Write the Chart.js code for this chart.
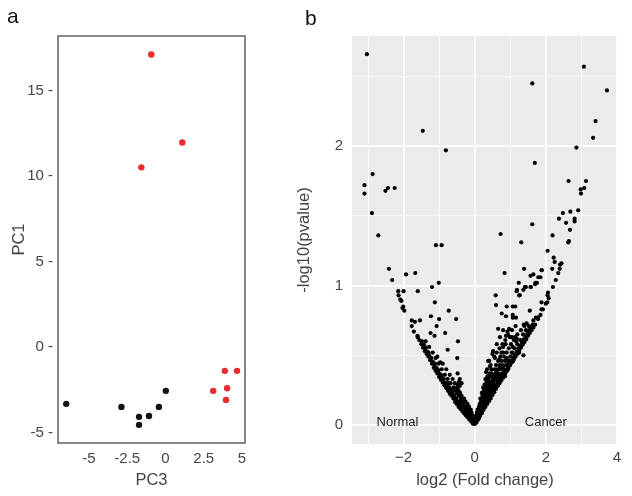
<!DOCTYPE html>
<html>
<head>
<meta charset="utf-8">
<script src="https://cdn.jsdelivr.net/npm/chart.js@4.4.1/dist/chart.umd.min.js"></script>
<style>
  html, body { margin: 0; padding: 0; background: #fff; }
  #wrap { position: relative; width: 632px; height: 496px; overflow: hidden; }
  .panel { position: absolute; top: 0; }
  .tag { position: absolute; font: 21px "Liberation Sans", Arial, sans-serif; color: #111; line-height: 21px; }
</style>
</head>
<body>
<div id="wrap">
  <canvas id="pcaChart" class="panel" width="290" height="496" style="left:0;width:290px;height:496px"></canvas>
  <canvas id="volcanoChart" class="panel" width="342" height="496" style="left:290px;width:342px;height:496px"></canvas>
  <div class="tag" style="left:7px;top:5px">a</div>
  <div class="tag" style="left:305px;top:7px">b</div>
</div>
<script>
const FONT = '"Liberation Sans", Arial, sans-serif';

// ---- panel a: PCA ----
const pcaNormalPC3 = [-6.49, -2.88, -1.73, -1.73, -1.08, -0.43, 0.02];
const pcaNormalPC1 = [-3.33, -3.51, -4.09, -4.56, -4.04, -3.51, -2.57];
const pcaCancerPC3 = [-0.93, 1.1, -1.58, 3.88, 4.68, 3.12, 4.03, 3.96];
const pcaCancerPC1 = [17.1, 11.95, 10.5, -1.4, -1.4, -2.57, -2.42, -3.1];
const pcaXTicks = [-5, -2.5, 0, 2.5, 5];
const pcaYTicks = [-5, 0, 5, 10, 15];

// ---- panel b: volcano (log2 fold change, -log10 p) ----
const volcanoHigh = [
  [-3.03,2.66],[-1.46,2.11],[-0.81,1.97],
  [3.07,2.57],[1.62,2.45],[3.72,2.40],[3.40,2.18],[3.33,2.06],[2.86,1.99],[1.69,1.88],
  [-2.87,1.80],[-3.10,1.72],[-3.10,1.66],[-2.51,1.68],[-2.44,1.70],[-2.25,1.70],[-2.89,1.52],[-2.71,1.36],
  [-1.09,1.29],[-0.93,1.29],[-2.41,1.12],[-2.32,1.04],[-1.93,1.08],[-1.67,1.09],[-1.01,1.02],[-1.20,0.99],
  [-2.15,0.96],[-2.0,0.96],[-2.14,0.93],[-1.60,0.96],
  [2.64,1.75],[3.13,1.75],[2.98,1.69],[3.08,1.70],[2.99,1.66],[2.91,1.54],[2.48,1.52],[2.69,1.53],
  [2.37,1.48],[2.81,1.48],[2.81,1.46],[2.57,1.45],[1.62,1.44],[2.68,1.40],[0.73,1.37],[2.19,1.36],
  [2.65,1.32],[2.63,1.31],[1.31,1.31],[2.05,1.25],[2.22,1.20],[2.25,1.17],[2.44,1.16],[2.40,1.15],
  [2.18,1.12],[2.39,1.12],[1.39,1.12],[1.89,1.11],[0.84,1.09],[2.35,1.09],[1.57,1.07],[1.85,1.06],
  [2.28,1.04],[1.75,1.02],[1.70,1.01],[1.24,1.02],[1.57,0.99],[1.44,0.99],[1.37,0.97],[1.19,0.97],
  [2.20,0.99],[2.06,0.95],[2.05,0.93],[1.25,0.93],[0.59,0.93],[2.08,0.91],
  [1.41,0.99],[1.18,0.96],[1.27,0.93],[1.58,0.99],[1.71,1.02],[1.79,1.06],[1.88,1.11],[1.65,1.08]
];
const volcanoMidLeft = [
  [-2.06,0.89],[-2.09,0.90],[-2.01,0.85],[-2.03,0.84],[-1.98,0.82],[-1.12,0.88],[-0.73,0.82],[-1.23,0.78],
  [-1.0,0.76],[-0.52,0.76],[-1.77,0.75],[-1.68,0.74],[-1.54,0.75],[-1.77,0.71],[-1.07,0.71],[-1.71,0.67],
  [-1.24,0.66],[-0.83,0.66],[-1.13,0.64],[-0.47,0.60],[-0.76,0.54],[-1.05,0.49],[-0.97,0.45],[-0.49,0.48],
  [-0.48,0.37],[-0.44,0.31],[-0.37,0.30],[-0.42,0.28],[-0.75,0.30],[-0.47,0.29],[-0.42,0.33],[-1.61,0.64]
];
const volcanoMidRight = [
  [0.60,0.86],[0.90,0.85],[1.07,0.85],[1.14,0.85],[0.76,0.80],[0.88,0.78],[1.07,0.79],[1.16,0.77],
  [1.07,0.77],[1.55,0.82],[1.72,0.77],[1.88,0.83],[1.88,0.88],[2.04,0.88],[1.38,0.72],[1.46,0.73],
  [1.65,0.75],[1.78,0.77],[0.66,0.69],[0.80,0.68],[0.92,0.67],[0.71,0.63],[0.88,0.64],[0.99,0.63],
  [1.13,0.63],[1.16,0.60],[0.62,0.58],[0.87,0.58],[0.80,0.56],[1.07,0.56],[0.75,0.52],[1.04,0.52],
  [1.25,0.52],[1.37,0.50],[0.52,0.53],[0.50,0.51],[0.57,0.48],[0.69,0.47],[0.90,0.48],[0.94,0.44],
  [1.08,0.46],[0.38,0.46],[0.43,0.42],[0.47,0.40],[0.32,0.38],[0.38,0.35],[0.52,0.36],[0.61,0.39],
  [0.71,0.41],[0.80,0.42],[0.94,0.40],[0.69,0.35],[0.85,0.35],[0.97,0.69],[1.18,0.62],[1.04,0.63]
];
const volcanoEdgeLeft = [
  [-0.05,0.01],[-0.1,0.025],[-0.15,0.04],[-0.2,0.055],[-0.25,0.07],[-0.3,0.085],[-0.35,0.1],[-0.4,0.115],
  [-0.45,0.13],[-0.5,0.15],[-0.55,0.165],[-0.6,0.19],[-0.65,0.21],[-0.7,0.225],[-0.75,0.245],[-0.8,0.265],
  [-0.85,0.285],[-0.9,0.305],[-0.95,0.325],[-1.0,0.345],[-1.05,0.37],[-1.1,0.39],[-1.15,0.41],[-1.2,0.44],
  [-1.25,0.465],[-1.3,0.49],[-1.35,0.51],[-1.4,0.53],[-1.45,0.555],[-1.5,0.58],[-1.56,0.61],[-1.6,0.63],
  [-0.08,0.035],[-0.13,0.05],[-0.18,0.07],[-0.23,0.085],[-0.28,0.1],[-0.33,0.115],[-0.38,0.13],[-0.43,0.15],
  [-0.48,0.165],[-0.53,0.185],[-0.58,0.205],[-0.63,0.225],[-0.68,0.245],[-0.73,0.265],[-0.78,0.285],[-0.83,0.3],
  [-0.88,0.325],[-0.93,0.345],[-0.98,0.365],[-1.03,0.385],[-1.08,0.41],[-1.13,0.43],[-1.18,0.455],[-1.23,0.48],
  [-1.28,0.5],[-1.33,0.525],[-1.38,0.55],[-1.43,0.575],[-1.48,0.6]
];
const volcanoEdgeRight = [
  [0.05,0.02],[0.1,0.04],[0.15,0.065],[0.2,0.085],[0.25,0.11],[0.3,0.13],[0.35,0.15],[0.4,0.17],
  [0.45,0.19],[0.5,0.215],[0.55,0.235],[0.6,0.26],[0.65,0.28],[0.7,0.3],[0.75,0.32],[0.8,0.34],
  [0.85,0.365],[0.9,0.385],[0.95,0.41],[1.0,0.43],[1.05,0.45],[1.1,0.47],[1.15,0.49],[1.2,0.51],
  [1.25,0.535],[1.3,0.555],[1.35,0.575],[1.4,0.595],[1.45,0.615],[1.5,0.64],[1.55,0.66],[1.6,0.68],
  [1.65,0.7],[1.7,0.72],[1.78,0.76],[1.85,0.79],[1.92,0.83],[2.0,0.87],
  [0.08,0.045],[0.13,0.065],[0.18,0.09],[0.23,0.11],[0.28,0.135],[0.33,0.155],[0.38,0.175],[0.43,0.2],
  [0.48,0.22],[0.53,0.24],[0.58,0.265],[0.63,0.285],[0.68,0.31],[0.73,0.33],[0.78,0.35],[0.83,0.375],
  [0.88,0.395],[0.93,0.42],[0.98,0.44],[1.03,0.46],[1.08,0.485],[1.13,0.505],[1.18,0.525],[1.23,0.55],
  [1.28,0.57],[1.33,0.59],[1.38,0.615],[1.43,0.635],[1.48,0.655],[1.53,0.68],[1.58,0.7],[1.63,0.72]
];
const volcanoCoreLeft = [
  [-0.02,0.03],[-0.05,0.03],[-0.04,0.05],[-0.09,0.05],[-0.13,0.05],[-0.06,0.07],[-0.12,0.07],[-0.18,0.07],
  [-0.09,0.09],[-0.15,0.09],[-0.22,0.09],[-0.27,0.09],[-0.11,0.11],[-0.19,0.11],[-0.25,0.11],[-0.33,0.11],
  [-0.16,0.13],[-0.23,0.13],[-0.29,0.13],[-0.38,0.13],[-0.2,0.15],[-0.31,0.15],[-0.36,0.15],[-0.43,0.15],
  [-0.26,0.17],[-0.34,0.17],[-0.41,0.17],[-0.48,0.17],[-0.3,0.19],[-0.39,0.19],[-0.52,0.19],[-0.37,0.21],
  [-0.45,0.21],[-0.57,0.21],[-0.41,0.23],[-0.5,0.23],[-0.62,0.23],[-0.46,0.25],[-0.55,0.25],[-0.66,0.25],
  [-0.5,0.27],[-0.6,0.27],[-0.72,0.27],[-0.56,0.3],[-0.68,0.3],[-0.8,0.3],[-0.62,0.33],[-0.76,0.33],
  [-0.87,0.33],[-0.7,0.36],[-0.84,0.36],[-0.95,0.36],[-0.8,0.4],[-0.93,0.4],[-1.04,0.4],[-0.9,0.44],
  [-1.02,0.44],[-1.12,0.44],[-1.1,0.48],[-1.22,0.48],[-1.18,0.52],[-1.3,0.52],[-1.28,0.56],[-1.4,0.56],
  [-1.38,0.6],[-1.5,0.6],[-0.01,0.01],[-0.03,0.015],[-0.07,0.04],[-0.14,0.06]
];
const volcanoCoreRight = [
  [0.02,0.03],[0.04,0.03],[0.03,0.05],[0.07,0.05],[0.1,0.05],[0.05,0.07],[0.09,0.07],[0.13,0.07],
  [0.06,0.09],[0.11,0.09],[0.16,0.09],[0.19,0.09],[0.08,0.11],[0.14,0.11],[0.18,0.11],[0.22,0.11],
  [0.12,0.13],[0.17,0.13],[0.21,0.13],[0.26,0.13],[0.14,0.15],[0.2,0.15],[0.24,0.15],[0.29,0.15],
  [0.33,0.15],[0.18,0.17],[0.23,0.17],[0.28,0.17],[0.31,0.17],[0.36,0.17],[0.16,0.19],[0.25,0.19],
  [0.3,0.19],[0.34,0.19],[0.4,0.19],[0.22,0.21],[0.27,0.21],[0.33,0.21],[0.38,0.21],[0.44,0.21],
  [0.2,0.23],[0.29,0.23],[0.35,0.23],[0.41,0.23],[0.47,0.23],[0.26,0.25],[0.32,0.25],[0.39,0.25],
  [0.45,0.25],[0.52,0.25],[0.24,0.27],[0.3,0.27],[0.37,0.27],[0.43,0.27],[0.5,0.27],[0.56,0.27],
  [0.28,0.29],[0.35,0.29],[0.42,0.29],[0.48,0.29],[0.55,0.29],[0.6,0.29],[0.33,0.31],[0.4,0.31],
  [0.46,0.31],[0.53,0.31],[0.64,0.31],[0.3,0.33],[0.38,0.33],[0.5,0.33],[0.58,0.33],[0.68,0.33],
  [0.36,0.35],[0.44,0.35],[0.55,0.35],[0.62,0.35],[0.73,0.35],[0.42,0.37],[0.48,0.37],[0.6,0.37],
  [0.66,0.37],[0.77,0.37],[0.35,0.4],[0.56,0.4],[0.64,0.4],[0.72,0.4],[0.82,0.4],[0.45,0.43],
  [0.6,0.43],[0.7,0.43],[0.78,0.43],[0.88,0.43],[0.41,0.46],[0.66,0.46],[0.75,0.46],[0.85,0.46],
  [0.95,0.46],[0.55,0.49],[0.72,0.49],[0.83,0.49],[1.0,0.49],[0.62,0.52],[0.8,0.52],[0.9,0.52],
  [1.06,0.52],[0.7,0.55],[0.96,0.55],[1.12,0.55],[0.78,0.58],[1.02,0.58],[1.2,0.58],[0.86,0.61],
  [1.1,0.61],[1.28,0.61],[0.94,0.65],[1.2,0.65],[1.36,0.65],[1.05,0.68],[1.3,0.68],[1.44,0.68],
  [1.15,0.71],[1.4,0.71],[1.52,0.71],[0.01,0.01],[0.03,0.015],[0.07,0.035],[0.12,0.05]
];
const volcanoXMajor = [-2, 0, 2, 4];
const volcanoXMinor = [-3, -1, 1, 3];
const volcanoYMajor = [0, 1, 2];
const volcanoYMinor = [0.5, 1.5, 2.5];
const volcanoNotes = [
  { text: 'Normal', x: -2.17, y: 0.02 },
  { text: 'Cancer', x: 2.0, y: 0.02 }
];

function toPoints(xs, ys) {
  return xs.map((x, i) => ({ x: x, y: ys[i] }));
}
function pairs(list) {
  return list.map(p => ({ x: p[0], y: p[1] }));
}
function minus(v) {
  return v < 0 ? '\u2212' + Math.abs(v) : String(v);
}

// frame round the PCA panel
const frameBox = {
  id: 'frameBox',
  afterDatasetsDraw(chart) {
    const a = chart.chartArea, ctx = chart.ctx;
    ctx.save();
    ctx.strokeStyle = '#6a6a6a';
    ctx.lineWidth = 1.6;
    ctx.strokeRect(a.left, a.top, a.right - a.left, a.bottom - a.top);
    ctx.restore();
  }
};

// grey panel background + text notes for the volcano
const panelBg = {
  id: 'panelBg',
  beforeDraw(chart) {
    const a = chart.chartArea, ctx = chart.ctx;
    ctx.save();
    ctx.fillStyle = '#ebebeb';
    ctx.fillRect(a.left, a.top, a.right - a.left, a.bottom - a.top);
    ctx.restore();
  },
  afterDatasetsDraw(chart) {
    const ctx = chart.ctx, sx = chart.scales.x, sy = chart.scales.y;
    ctx.save();
    ctx.font = '13px ' + FONT;
    ctx.fillStyle = '#1a1a1a';
    ctx.textAlign = 'center';
    ctx.textBaseline = 'middle';
    volcanoNotes.forEach(n => ctx.fillText(n.text, sx.getPixelForValue(n.x), sy.getPixelForValue(n.y)));
    ctx.restore();
  }
};

const tickFont = { family: FONT, size: 15 };
const titleFont = { family: FONT, size: 16.5 };
const GREY = '#444';

new Chart(document.getElementById('pcaChart'), {
  type: 'scatter',
  data: {
    datasets: [
      { label: 'Normal', data: toPoints(pcaNormalPC3, pcaNormalPC1), backgroundColor: '#111', borderWidth: 0, pointRadius: 3.2 },
      { label: 'Cancer', data: toPoints(pcaCancerPC3, pcaCancerPC1), backgroundColor: '#ec2a30', borderWidth: 0, pointRadius: 3.2 }
    ]
  },
  options: {
    responsive: false,
    animation: false,
    layout: { padding: { top: 36, right: 45, left: 0, bottom: 0 } },
    plugins: { legend: { display: false }, tooltip: { enabled: false } },
    scales: {
      x: {
        type: 'linear', min: -7.03, max: 5.2,
        afterBuildTicks: s => { s.ticks = pcaXTicks.map(v => ({ value: v })); },
        afterFit: s => { s.height = 53; },
        grid: { display: false, drawTicks: false },
        border: { display: false },
        ticks: { font: tickFont, color: GREY, padding: 7, maxRotation: 0, autoSkip: false, callback: v => String(v) },
        title: { display: true, text: 'PC3', font: titleFont, color: GREY, padding: { top: 0, bottom: 6 } }
      },
      y: {
        type: 'linear', min: -5.62, max: 18.18,
        afterBuildTicks: s => { s.ticks = pcaYTicks.map(v => ({ value: v })); },
        afterFit: s => { s.width = 58; },
        grid: { display: false, drawTicks: false },
        border: { display: false },
        ticks: { font: tickFont, color: GREY, padding: 5, autoSkip: false, callback: v => v + ' -' },
        title: { display: true, text: 'PC1', font: titleFont, color: GREY, padding: { top: 10, bottom: 0 } }
      }
    }
  },
  plugins: [frameBox]
});

const volcanoAll = [].concat(volcanoHigh, volcanoMidLeft, volcanoMidRight,
  volcanoEdgeLeft, volcanoEdgeRight, volcanoCoreLeft, volcanoCoreRight);

new Chart(document.getElementById('volcanoChart'), {
  type: 'scatter',
  data: {
    datasets: [{ label: 'genes', data: pairs(volcanoAll), backgroundColor: '#000', borderWidth: 0, pointRadius: 2.1 }]
  },
  options: {
    responsive: false,
    animation: false,
    layout: { padding: { top: 36, right: 14, left: 0, bottom: 0 } },
    plugins: { legend: { display: false }, tooltip: { enabled: false } },
    scales: {
      x: {
        type: 'linear', min: -3.45, max: 4.03,
        afterBuildTicks: s => { s.ticks = volcanoXMajor.concat(volcanoXMinor).sort((a, b) => a - b).map(v => ({ value: v })); },
        afterFit: s => { s.height = 52; },
        grid: {
          color: '#fff', drawTicks: false,
          lineWidth: c => (c.tick && volcanoXMajor.includes(c.tick.value)) ? 1.7 : 0.8
        },
        border: { display: false },
        ticks: { font: tickFont, color: GREY, padding: 5, maxRotation: 0, autoSkip: false,
          callback: v => volcanoXMajor.includes(v) ? minus(v) : '' },
        title: { display: true, text: 'log2 (Fold change)', font: titleFont, color: GREY, padding: { top: 0, bottom: 6 } }
      },
      y: {
        type: 'linear', min: -0.136, max: 2.79,
        afterBuildTicks: s => { s.ticks = volcanoYMajor.concat(volcanoYMinor).sort((a, b) => a - b).map(v => ({ value: v })); },
        afterFit: s => { s.width = 62; },
        grid: {
          color: '#fff', drawTicks: false,
          lineWidth: c => (c.tick && volcanoYMajor.includes(c.tick.value)) ? 1.7 : 0.8
        },
        border: { display: false },
        ticks: { font: tickFont, color: GREY, padding: 9, autoSkip: false,
          callback: v => volcanoYMajor.includes(v) ? String(v) : '' },
        title: { display: true, text: '-log10(pvalue)', font: titleFont, color: GREY, padding: { top: 5, bottom: 0 } }
      }
    }
  },
  plugins: [panelBg]
});
</script>
</body>
</html>
